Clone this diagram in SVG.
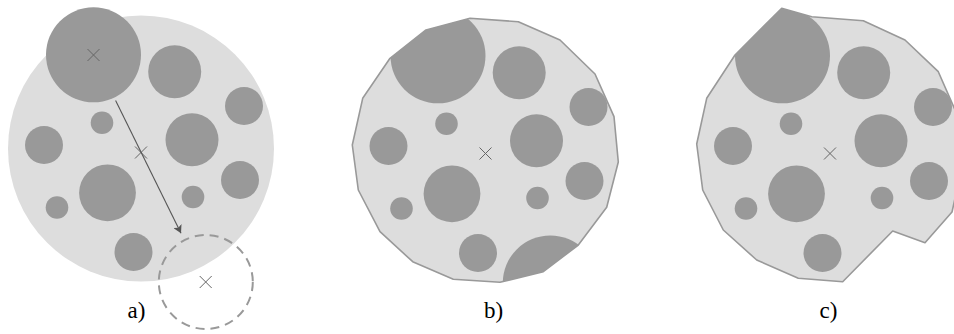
<svg xmlns="http://www.w3.org/2000/svg" width="954" height="334" viewBox="0 0 954 334">
<style>
.bg{fill:#dddddd}
.hole{fill:#999999}
.poly{fill:#dddddd;stroke:#999999;stroke-width:1.6;stroke-linejoin:round}
.cross{fill:none;stroke:#666666;stroke-width:1}
.conn{fill:none;stroke:#555555;stroke-width:1.1}
.dash{fill:none;stroke:#999999;stroke-width:2;stroke-dasharray:9 6}
.lbl{font-family:"Liberation Serif",serif;font-size:23px;fill:#000;text-anchor:middle}
</style>
<defs>
<path id="x" d="M-6,-6 L6,6 M-6,6 L6,-6"/>
<g id="holes">
<circle cx="174.7" cy="71.7" r="26.5"/>
<circle cx="244" cy="106" r="19"/>
<circle cx="102" cy="122.7" r="11.3"/>
<circle cx="44" cy="145" r="19"/>
<circle cx="192" cy="139.8" r="26.5"/>
<circle cx="240" cy="180" r="19"/>
<circle cx="107.5" cy="192.8" r="28.4"/>
<circle cx="193" cy="197" r="11.3"/>
<circle cx="57" cy="207.5" r="11.3"/>
<circle cx="133.5" cy="252" r="19"/>
</g>
<polygon id="polyB" points="470,18.3 518.3,21.7 560,40 595,74 614,116.7 618.3,162 606.7,207.3 578.3,245 543.3,271.7 500,282.3 453.3,279.3 412.7,261.7 380,231.7 358.3,190 352.3,145 362.7,98.3 390,58.3 426,30"/>
<polygon id="polyC" points="781.7,8.3 811.7,16.7 863.3,20.7 905,40 938.3,71.7 958.5,117.7 962.8,163 952,212 925,242.7 892.7,231 842.7,281.7 798.3,278.3 756.7,260 723.3,230 702.7,190 696.7,144 706.7,98.3 735,55"/>
<clipPath id="clipB"><use href="#polyB"/></clipPath>
<clipPath id="clipC"><use href="#polyC"/></clipPath>
<marker id="ah" markerUnits="userSpaceOnUse" markerWidth="8" markerHeight="9" viewBox="0 0 8 9" refX="8" refY="4.5" orient="auto">
<path d="M0,0 L8,4.5 L0,9 L2,4.5 z" fill="#555555"/>
</marker>
</defs>

<g id="panel-a">
<circle class="bg" cx="141" cy="148.5" r="133"/>
<use href="#holes" class="hole"/>
<circle id="big-circle-a" class="hole" cx="93.5" cy="54.8" r="47.5"/>
<circle id="moved-circle-a" class="dash" cx="205.8" cy="282" r="47"/>
<use href="#x" class="cross" x="93.5" y="55"/>
<use href="#x" class="cross" x="141" y="152.5"/>
<use href="#x" class="cross" x="205.7" y="282"/>
<text class="lbl" x="136.5" y="318">a)</text>
</g>

<g id="connectors">
<line class="conn" x1="115.6" y1="100.5" x2="181" y2="233.2" marker-end="url(#ah)"/>
</g>

<g id="panel-b">
<use href="#polyB" class="poly"/>
<g clip-path="url(#clipB)">
<g transform="translate(344.5,1)">
<use href="#holes" class="hole"/>
<circle class="hole" cx="93.5" cy="54.8" r="47.5"/>
<circle class="hole" cx="205.8" cy="282" r="47.5"/>
</g>
</g>
<use href="#x" class="cross" x="485.5" y="153.5"/>
<text class="lbl" x="493.5" y="318">b)</text>
</g>

<g id="panel-c">
<use href="#polyC" class="poly"/>
<g clip-path="url(#clipC)">
<g transform="translate(689,1)">
<use href="#holes" class="hole"/>
<circle class="hole" cx="93.5" cy="54.8" r="47.5"/>
</g>
</g>
<use href="#x" class="cross" x="830" y="153.5"/>
<text class="lbl" x="828.5" y="318">c)</text>
</g>
</svg>
